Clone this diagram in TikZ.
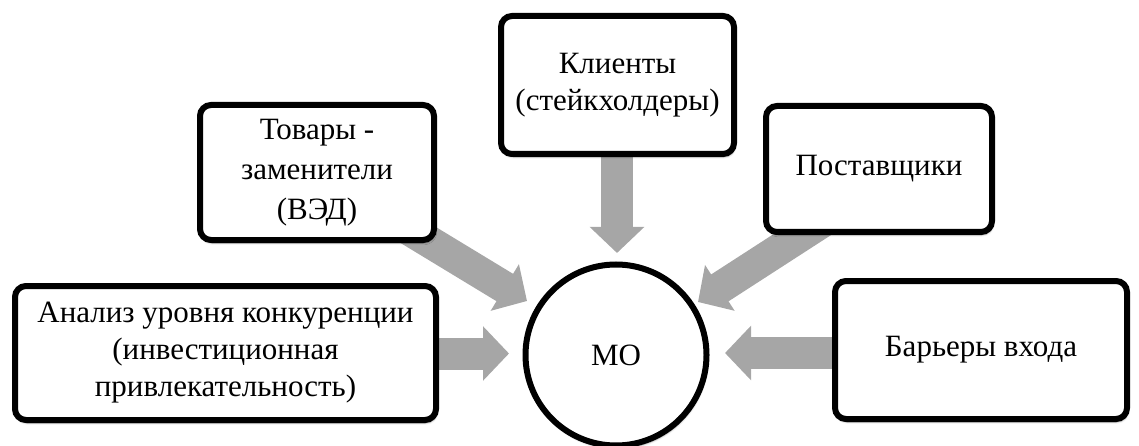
\documentclass[tikz,border=0pt]{standalone}
\usepackage{fontspec}
\setmainfont{Liberation Serif}
\usetikzlibrary{arrows.meta,shadows.blur,calc}
\pgfdeclarelayer{background}
\pgfsetlayers{background,main}
\definecolor{arrowgrey}{RGB}{166,166,166}
\tikzset{
  factor/.style={draw=black, line width=6pt, rounded corners=11pt, fill=white,
    align=center, inner sep=0pt, font=\fontsize{31}{37}\selectfont,
    blur shadow={shadow xshift=1pt, shadow yshift=-3pt, shadow opacity=40, shadow blur steps=5}},
  hub/.style={circle, draw=black, line width=6pt, fill=white, minimum size=181pt,
    inner sep=0pt, font=\fontsize{31}{37}\selectfont,
    blur shadow={shadow xshift=1pt, shadow yshift=-3pt, shadow opacity=40, shadow blur steps=5}},
  push/.style={draw=arrowgrey, line width=32pt,
    -{Triangle[length=26pt, width=53pt, fill=arrowgrey]}},
}
\begin{document}
\begin{tikzpicture}[x=1pt, y=-1pt]
\useasboundingbox (0,0) rectangle (1139,446);

% central organisation
\node[hub] (mo) at (616,355) {МО};

% surrounding factors
\node[factor, minimum width=421pt, minimum height=134pt] (comp) at (225.5,353)
  {Анализ уровня конкуренции\\(инвестиционная\\привлекательность)};
\node[factor, minimum width=234pt, minimum height=135pt, font=\fontsize{31}{40}\selectfont] (subst) at (317,172.5)
  {Товары -\\заменители\\(ВЭД)};
\node[factor, minimum width=233pt, minimum height=138pt] (clients) at (617.5,85)
  {Клиенты\\(стейкхолдеры)};
\node[factor, minimum width=226pt, minimum height=126pt] (suppl) at (879,169)
  {Поставщики};
\node[factor, minimum width=292pt, minimum height=138pt] (barr) at (981,350)
  {Барьеры входа};

% arrow tips around the circle
\coordinate (tL)  at (509,353.5);
\coordinate (tUL) at (527,301);
\coordinate (tT)  at (617,253);
\coordinate (tUR) at (698,302);
\coordinate (tR)  at (725,353);

% arrow tails hidden under the boxes
\coordinate (sUL) at ($(tUL)!160pt!180:(mo.center)$);
\coordinate (sUR) at ($(tUR)!160pt!180:(mo.center)$);

\begin{pgfonlayer}{background}
  \draw[push] (tL -| comp.east) -- (tL);
  \draw[push] (sUL) -- (tUL);
  \draw[push] (tT |- clients.south) -- (tT);
  \draw[push] (sUR) -- (tUR);
  \draw[push] (tR -| barr.west) -- (tR);
\end{pgfonlayer}
\end{tikzpicture}
\end{document}
